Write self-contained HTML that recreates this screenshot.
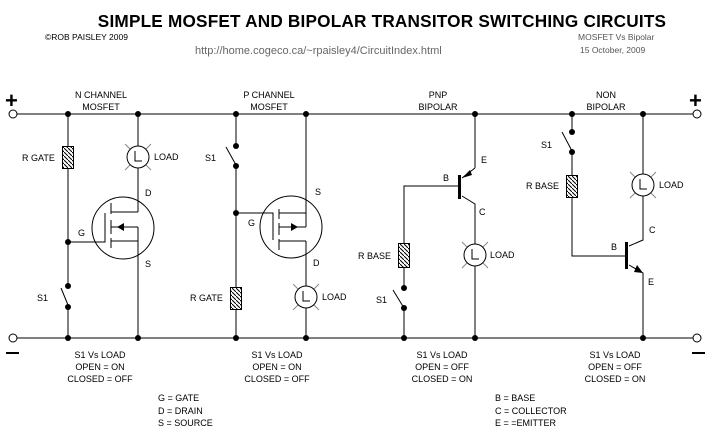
<!DOCTYPE html>
<html><head><style>
body{margin:0;background:#fff}
svg{display:block}
text{font-family:"Liberation Sans",sans-serif;font-size:9px;fill:#000}
</style></head><body>
<svg width="712" height="439" viewBox="0 0 712 439" xmlns="http://www.w3.org/2000/svg">
<defs>
<pattern id="h" width="4" height="4" patternUnits="userSpaceOnUse"><path d="M-1,-1 L5,5" stroke="#000" stroke-width="1"/></pattern>
</defs>
<text x="382" y="27" text-anchor="middle" style="font-size:17.2px;font-weight:bold;letter-spacing:0.2px">SIMPLE MOSFET AND BIPOLAR TRANSITOR SWITCHING CIRCUITS</text>
<text x="45" y="40" style="font-size:8.5px">©ROB PAISLEY 2009</text>
<text x="195" y="54" style="font-size:11px;fill:#666">http://home.cogeco.ca/~rpaisley4/CircuitIndex.html</text>
<text x="578" y="40" style="font-size:8.5px;fill:#555">MOSFET Vs Bipolar</text>
<text x="580" y="53" style="font-size:8.5px;fill:#555">15 October, 2009</text>

<g stroke="#000" stroke-width="1" fill="none">
<line x1="17" y1="114" x2="693" y2="114"/>
<line x1="17" y1="338" x2="693" y2="338"/>
<circle cx="13" cy="114" r="4" fill="#fff"/>
<circle cx="697" cy="114" r="4" fill="#fff"/>
<circle cx="13" cy="338" r="4" fill="#fff"/>
<circle cx="697" cy="338" r="4" fill="#fff"/>
<line x1="68" y1="114" x2="68" y2="146"/><line x1="68" y1="168" x2="68" y2="286"/><line x1="68" y1="307" x2="68" y2="338"/>
<line x1="61" y1="288" x2="68" y2="305"/>
<line x1="138" y1="114" x2="138" y2="146"/><line x1="138" y1="168" x2="138" y2="212"/>
<circle cx="123" cy="228" r="31"/>
<polyline points="68,242 105,242 105,213"/>
<line x1="111" y1="203" x2="111" y2="214"/><line x1="111" y1="220" x2="111" y2="234"/><line x1="111" y1="238" x2="111" y2="248"/>
<polyline points="111,212 138,212"/><line x1="111" y1="227" x2="138" y2="227"/><line x1="111" y1="241" x2="138" y2="241"/>
<line x1="138" y1="227" x2="138" y2="338"/>
<line x1="236" y1="114" x2="236" y2="146"/><line x1="236" y1="166" x2="236" y2="287"/><line x1="236" y1="309" x2="236" y2="338"/>
<line x1="226" y1="147" x2="236" y2="165"/>
<circle cx="291" cy="227" r="31"/>
<polyline points="236,213 273,213 273,240"/>
<line x1="279" y1="209" x2="279" y2="219"/><line x1="279" y1="223" x2="279" y2="235"/><line x1="279" y1="239" x2="279" y2="250"/>
<line x1="279" y1="213" x2="306" y2="213"/><line x1="279" y1="227" x2="306" y2="227"/><line x1="279" y1="241" x2="306" y2="241"/>
<line x1="306" y1="114" x2="306" y2="227"/><line x1="306" y1="241" x2="306" y2="286"/><line x1="306" y1="308" x2="306" y2="338"/>
<line x1="475" y1="114" x2="475" y2="168"/><line x1="475" y1="168" x2="462" y2="178"/>
<polyline points="462,196 475,204 475,244"/><line x1="475" y1="266" x2="475" y2="338"/>
<polyline points="460,186 404,186 404,243"/><line x1="404" y1="267" x2="404" y2="288"/>
<line x1="393" y1="290" x2="404" y2="308"/><line x1="404" y1="308" x2="404" y2="338"/>
<line x1="572" y1="114" x2="572" y2="132"/><line x1="562" y1="132" x2="572" y2="151"/>
<line x1="572" y1="152" x2="572" y2="175"/>
<polyline points="572,197 572,256 627,256"/>
<line x1="643" y1="114" x2="643" y2="174"/><polyline points="643,196 643,240 629,246"/>
<polyline points="629,265 643,273 643,338"/>
</g>
<g fill="#000">
<rect x="458" y="175" width="3" height="24"/>
<rect x="625" y="242" width="3" height="27"/>
<polygon points="462,178 470,170 472,175"/>
<polygon points="643,273 634,272 637,265"/>
<polygon points="117,227 124,223 124,231"/>
<polygon points="298,227 291,223 291,231"/>
</g>
<g stroke="#000" fill="url(#h)">
<rect x="62.5" y="146.5" width="11" height="22"/>
<rect x="230.5" y="287.5" width="11" height="22"/>
<rect x="398.5" y="243.5" width="11" height="24"/>
<rect x="566.5" y="175.5" width="11" height="22"/>
</g>
<g fill="#000">
<circle cx="68" cy="114" r="3"/><circle cx="138" cy="114" r="3"/><circle cx="236" cy="114" r="3"/><circle cx="306" cy="114" r="3"/><circle cx="475" cy="114" r="3"/><circle cx="572" cy="114" r="3"/><circle cx="643" cy="114" r="3"/>
<circle cx="68" cy="338" r="3"/><circle cx="138" cy="338" r="3"/><circle cx="236" cy="338" r="3"/><circle cx="306" cy="338" r="3"/><circle cx="404" cy="338" r="3"/><circle cx="475" cy="338" r="3"/><circle cx="643" cy="338" r="3"/>
<circle cx="68" cy="242" r="3"/><circle cx="68" cy="286" r="3"/><circle cx="68" cy="307" r="3"/>
<circle cx="236" cy="146" r="3"/><circle cx="236" cy="166" r="3"/><circle cx="236" cy="213" r="3"/>
<circle cx="404" cy="288" r="3"/><circle cx="404" cy="308" r="3"/>
<circle cx="572" cy="132" r="3"/><circle cx="572" cy="152" r="3"/>
</g>
<g stroke="#000" fill="#fff">
<g transform="translate(138,157)"><path d="M-13,-13L-7,-7M13,-13L7,-7M-13,13L-7,7M13,13L7,7" stroke="#888"/><circle r="11"/><path d="M-3,-6V4H4" fill="none"/></g>
<g transform="translate(306,297)"><path d="M-13,-13L-7,-7M13,-13L7,-7M-13,13L-7,7M13,13L7,7" stroke="#888"/><circle r="11"/><path d="M-3,-6V4H4" fill="none"/></g>
<g transform="translate(475,255)"><path d="M-13,-13L-7,-7M13,-13L7,-7M-13,13L-7,7M13,13L7,7" stroke="#888"/><circle r="11"/><path d="M-3,-6V4H4" fill="none"/></g>
<g transform="translate(643,185)"><path d="M-13,-13L-7,-7M13,-13L7,-7M-13,13L-7,7M13,13L7,7" stroke="#888"/><circle r="11"/><path d="M-3,-6V4H4" fill="none"/></g>
</g>
<text x="5" y="108" style="font-size:22px;font-weight:bold">+</text>
<text x="689" y="108" style="font-size:22px;font-weight:bold">+</text>
<rect x="6" y="352" width="13" height="2" fill="#000"/>
<rect x="692" y="352" width="13" height="2" fill="#000"/>
<text x="101" y="98" text-anchor="middle">N CHANNEL</text><text x="101" y="110" text-anchor="middle">MOSFET</text>
<text x="269" y="98" text-anchor="middle">P CHANNEL</text><text x="269" y="110" text-anchor="middle">MOSFET</text>
<text x="438" y="98" text-anchor="middle">PNP</text><text x="438" y="110" text-anchor="middle">BIPOLAR</text>
<text x="606" y="98" text-anchor="middle">NON</text><text x="606" y="110" text-anchor="middle">BIPOLAR</text>
<text x="22" y="161">R GATE</text><text x="154" y="160">LOAD</text>
<text x="145" y="196">D</text><text x="78" y="236">G</text><text x="145" y="267">S</text><text x="37" y="301">S1</text>
<text x="205" y="161">S1</text><text x="315" y="195">S</text><text x="248" y="226">G</text><text x="313" y="266">D</text>
<text x="190" y="301">R GATE</text><text x="322" y="300">LOAD</text>
<text x="481" y="163">E</text><text x="443" y="181">B</text><text x="479" y="215">C</text>
<text x="358" y="259">R BASE</text><text x="490" y="258">LOAD</text><text x="376" y="303">S1</text>
<text x="541" y="148">S1</text><text x="526" y="189">R BASE</text><text x="659" y="188">LOAD</text>
<text x="649" y="233">C</text><text x="611" y="250">B</text><text x="648" y="285">E</text>
<g text-anchor="middle">
<text x="100" y="358">S1 Vs LOAD</text><text x="100" y="370">OPEN = ON</text><text x="100" y="382">CLOSED = OFF</text>
<text x="277" y="358">S1 Vs LOAD</text><text x="277" y="370">OPEN = ON</text><text x="277" y="382">CLOSED = OFF</text>
<text x="442" y="358">S1 Vs LOAD</text><text x="442" y="370">OPEN = OFF</text><text x="442" y="382">CLOSED = ON</text>
<text x="615" y="358">S1 Vs LOAD</text><text x="615" y="370">OPEN = OFF</text><text x="615" y="382">CLOSED = ON</text>
</g>
<text x="158" y="401">G = GATE</text><text x="158" y="414">D = DRAIN</text><text x="158" y="426">S = SOURCE</text>
<text x="495" y="401">B = BASE</text><text x="495" y="414">C = COLLECTOR</text><text x="495" y="426">E = =EMITTER</text>
</svg>
</body></html>
